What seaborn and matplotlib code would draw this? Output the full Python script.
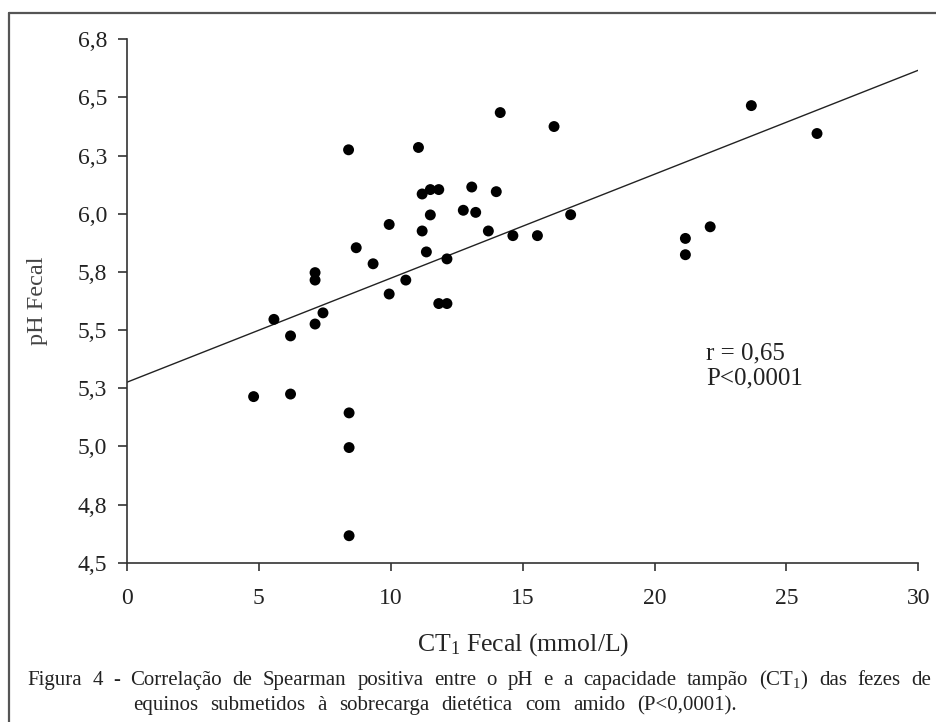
import matplotlib
matplotlib.use('Agg')
import matplotlib.pyplot as plt
import seaborn as sns
import pandas as pd
from matplotlib.lines import Line2D

# ── Dados ─────────────────────────────────────────────────────────────────────
ct1_fecal = [8.40, 11.05, 13.07, 11.19, 11.50, 11.82, 12.75, 13.22, 11.50, 9.94,
             11.19, 8.69, 11.35, 12.13, 9.33, 7.13, 7.13, 10.57, 9.94, 11.82,
             12.13, 5.57, 7.43, 7.13, 6.20, 14.15, 16.19, 23.67, 26.16, 14.00,
             13.70, 14.63, 15.56, 16.82, 21.17, 21.17, 22.11, 4.80, 6.20, 8.42,
             8.42, 8.42]
ph_fecal = [6.275, 6.285, 6.115, 6.085, 6.104, 6.104, 6.015, 6.006, 5.995, 5.954,
            5.926, 5.854, 5.836, 5.806, 5.785, 5.747, 5.715, 5.715, 5.655, 5.614,
            5.614, 5.546, 5.574, 5.526, 5.475, 6.435, 6.375, 6.465, 6.345, 6.095,
            5.926, 5.906, 5.906, 5.996, 5.894, 5.824, 5.944, 5.214, 5.225, 5.144,
            4.995, 4.616]
# reta de regressão (extremos)
fit_ct = [0, 30]
fit_ph = [5.276, 6.617]

x_ticks = [0, 5, 10, 15, 20, 25, 30]
y_ticks = [4.5, 4.75, 5.0, 5.25, 5.5, 5.75, 6.0, 6.25, 6.5, 6.75]
y_ticklabels = ['4,5', '4,8', '5,0', '5,3', '5,5', '5,8', '6,0', '6,3', '6,5', '6,8']

caption_l1 = 'Figura 4 - Correlação de Spearman positiva entre o pH e a capacidade tampão (CT$_1$) das fezes de'
caption_l2 = 'equinos submetidos à sobrecarga dietética com amido (P<0,0001).'

df = pd.DataFrame({'ct': ct1_fecal, 'ph': ph_fecal})
fit = pd.DataFrame({'ct': fit_ct, 'ph': fit_ph})

# ── Estilo ────────────────────────────────────────────────────────────────────
sns.set_style('ticks')
plt.rcParams.update({'font.family': ['Liberation Serif', 'DejaVu Serif'],
                     'mathtext.fontset': 'custom',
                     'mathtext.rm': 'Liberation Serif',
                     'mathtext.default': 'regular',
                     'text.color': '#222222',
                     'axes.edgecolor': '#333333',
                     'xtick.color': '#333333', 'ytick.color': '#333333'})

W, H = 936, 722
fig = plt.figure(figsize=(W / 100, H / 100), dpi=100)
ax = fig.add_axes([127 / W, 1 - 562.7 / H, 791.3 / W, 523.4 / H])

sns.scatterplot(data=df, x='ct', y='ph', ax=ax, color='black', s=62,
                edgecolor='none', legend=False, zorder=3)
sns.lineplot(data=fit, x='ct', y='ph', ax=ax, color='#222222', lw=1.0, zorder=2)

ax.set_xlim(0, 30); ax.set_ylim(4.5, 6.75)
ax.set_xticks(x_ticks); ax.set_xticklabels([str(v) for v in x_ticks])
ax.set_yticks(y_ticks); ax.set_yticklabels(y_ticklabels)
ax.tick_params(axis='x', length=5.5, width=1.2, pad=13, labelsize=17, labelcolor='#222222')
ax.tick_params(axis='y', length=6.3, width=1.2, pad=8, labelsize=17, labelcolor='#222222')
for s in ['left', 'bottom']:
    ax.spines[s].set_linewidth(1.2)
sns.despine(ax=ax)

ax.set_xlabel('CT$_1$ Fecal (mmol/L)', fontsize=18.5)
ax.xaxis.label.set_va('center')
ax.xaxis.set_label_coords(0.5, -0.157)
ax.set_ylabel('pH Fecal', fontsize=17.5, color='#444444')
ax.yaxis.label.set_va('center')
ax.yaxis.set_label_coords(-0.1137, 0.5)

ax.text(21.95, 5.346, 'r = 0,65\nP<0,0001', fontsize=18, va='center', ha='left',
        linespacing=1.15)

# moldura (apenas topo e lado esquerdo visíveis)
fy = 1 - 13 / H; fx = 9 / W
fig.add_artist(Line2D([fx, 1], [fy, fy], transform=fig.transFigure, color='#555555', lw=1.6))
fig.add_artist(Line2D([fx, fx], [0, fy], transform=fig.transFigure, color='#555555', lw=1.6))

# legenda justificada
fig.canvas.draw()
renderer = fig.canvas.get_renderer()

def justified(line, x0, x1, ybase):
    words = line.split(' ')
    txts = [fig.text(0, 1 - ybase / H, w, fontsize=15, va='baseline', ha='left') for w in words]
    widths = [t.get_window_extent(renderer).width for t in txts]
    gap = (x1 - x0 - sum(widths)) / (len(words) - 1)
    x = x0
    for t, w in zip(txts, widths):
        t.set_x(x / W)
        x += w + gap

justified(caption_l1, 27, 931, 685)
justified(caption_l2, 133, 737, 710)

fig.savefig('out.png', dpi=100)
plt.close(fig)
